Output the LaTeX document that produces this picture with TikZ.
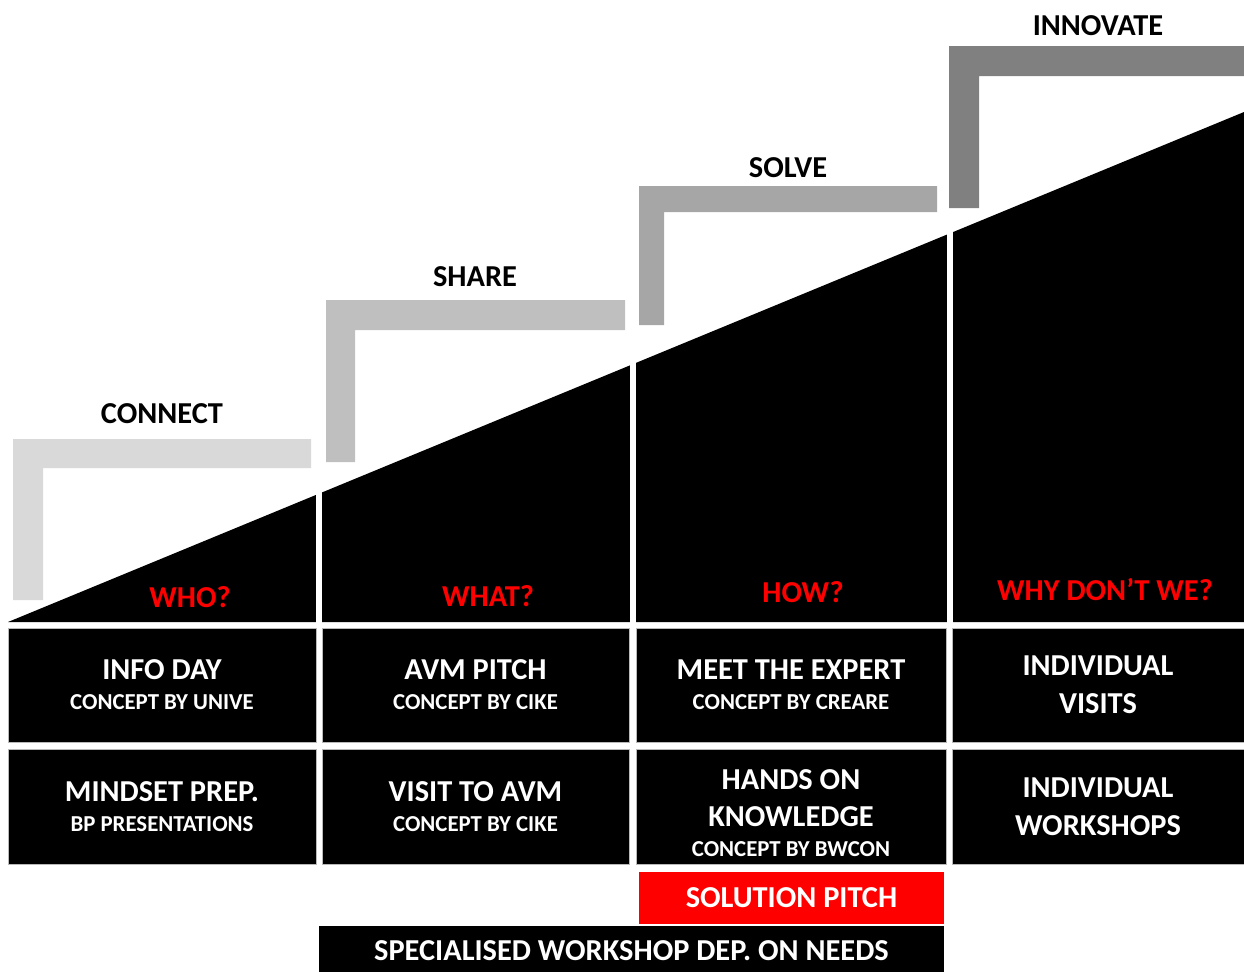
\documentclass[tikz,border=0pt]{standalone}
\usepackage{fontspec}
\setmainfont{Carlito}
\definecolor{stairone}{HTML}{D9D9D9}
\definecolor{stairtwo}{HTML}{BFBFBF}
\definecolor{stairthree}{HTML}{A6A6A6}
\definecolor{stairfour}{HTML}{808080}
\definecolor{askred}{HTML}{FF0000}
\newcommand{\bigfont}{\fontsize{15.2}{19}\selectfont\bfseries}
\newcommand{\subfont}{\fontsize{11.4}{13}\selectfont\bfseries}
\tikzset{
  stairbar/.style={fill=#1},
  stairlabel/.style={font=\bigfont, text=black, inner sep=0pt},
  asklabel/.style={font=\bigfont, text=askred, inner sep=0pt},
  cellbox/.style={fill=black, draw=gray!55, line width=0.5pt, text=white, inner sep=0pt,
    align=center, font=\bigfont, minimum width=#1},
  celltext/.style={text=white, inner sep=0pt, align=center, font=\bigfont},
}

\begin{document}
\begin{tikzpicture}[x=0.5pt,y=-0.5pt]
\useasboundingbox (0,0) rectangle (1244,971);

% rising wedge
\fill[black] (8,622) -- (1244,112) -- (1244,622) -- cycle;
\foreach \x/\t in {318.5/489, 632.5/359, 949.5/228}
  \draw[white, line width=3pt] (\x,624) -- (\x,\t);

% stairs
\fill[stairbar=stairone] (13,439) -- (311,439) -- (311,468) -- (43,468) -- (43,600) -- (13,600) -- cycle;
\fill[stairbar=stairtwo] (326,300) -- (625,300) -- (625,330) -- (355,330) -- (355,462) -- (326,462) -- cycle;
\fill[stairbar=stairthree] (639,186) -- (937,186) -- (937,212) -- (664,212) -- (664,325) -- (639,325) -- cycle;
\fill[stairbar=stairfour] (949,46) -- (1244,46) -- (1244,76) -- (979,76) -- (979,208) -- (949,208) -- cycle;

\node[stairlabel] (connect) at (162,414) {CONNECT};
\node[stairlabel] (share) at (475,277) {SHARE};
\node[stairlabel] (solve) at (788,168) {SOLVE};
\node[stairlabel] (innovate) at (1098,26) {INNOVATE};

\node[asklabel] (who) at (190,597) {WHO?};
\node[asklabel] (what) at (488,596) {WHAT?};
\node[asklabel] (how) at (803,592) {HOW?};
\node[asklabel] (whynot) at (1105,590) {WHY DON’T WE?};

% first row
\node[cellbox=154pt, minimum height=57pt] (infoday) at (162,685)
  {INFO DAY\\[-4pt]{\subfont CONCEPT BY UNIVE}};
\node[cellbox=153.5pt, minimum height=57pt] (avmpitch) at (475.5,685)
  {AVM PITCH\\[-4pt]{\subfont CONCEPT BY CIKE}};
\node[cellbox=155pt, minimum height=57pt] (expert) at (791,685)
  {MEET THE EXPERT\\[-4pt]{\subfont CONCEPT BY CREARE}};
\node[cellbox=146pt, minimum height=57pt] (visits) at (1098,685)
  {INDIVIDUAL\\VISITS};

% second row
\node[cellbox=154pt, minimum height=57.5pt] (mindset) at (162,806.5)
  {MINDSET PREP.\\[-4pt]{\subfont BP PRESENTATIONS}};
\node[cellbox=153.5pt, minimum height=57.5pt] (visitavm) at (475.5,806.5)
  {VISIT TO AVM\\[-4pt]{\subfont CONCEPT BY CIKE}};
\node[cellbox=155pt, minimum height=57.5pt] (handson) at (791,806.5) {};
\node[celltext] (handsontext) at ([yshift=-3.25pt]handson.center)
  {HANDS ON\\[-0.5pt]KNOWLEDGE\\[-4pt]{\subfont CONCEPT BY BWCON}};
\node[cellbox=146pt, minimum height=57.5pt] (workshops) at (1098,806.5)
  {INDIVIDUAL\\WORKSHOPS};

% extra sessions
\node[cellbox=152.5pt, minimum height=26pt, fill=askred, draw=none] (pitch) at (791.5,898) {SOLUTION PITCH};
\node[cellbox=312.5pt, minimum height=25pt, draw=none] (special) at (631.5,951) {SPECIALISED WORKSHOP DEP. ON NEEDS};
\end{tikzpicture}
\end{document}
